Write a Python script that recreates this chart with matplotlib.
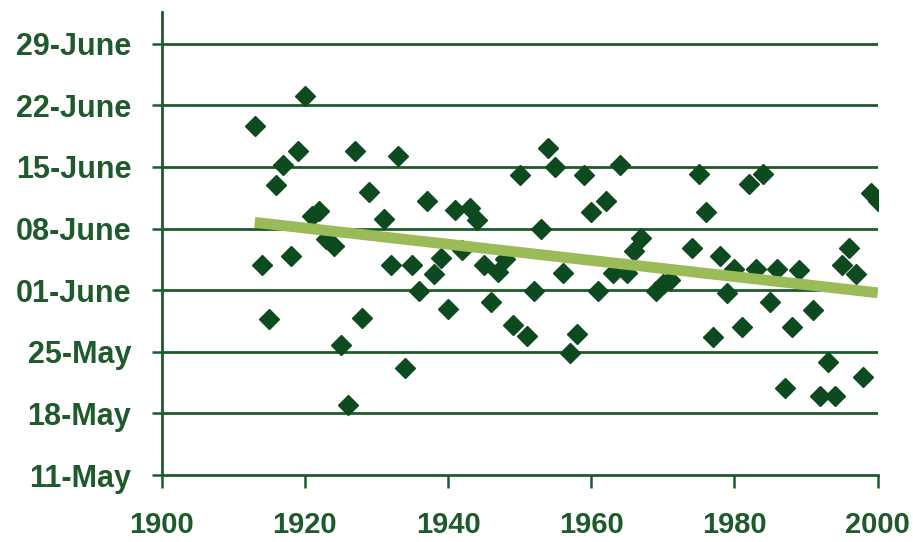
import matplotlib
matplotlib.use("Agg")
import matplotlib.pyplot as plt

# --- data: sowing/flowering date per year, as days after 11 May ---
years = [1913, 1914, 1915, 1916, 1917, 1918, 1919, 1920, 1921, 1922,
         1923, 1924, 1925, 1926, 1927, 1928, 1929, 1931, 1932, 1933,
         1934, 1935, 1936, 1937, 1938, 1939, 1940, 1941, 1942, 1943,
         1944, 1945, 1946, 1947, 1948, 1949, 1950, 1951, 1952, 1953,
         1954, 1955, 1956, 1957, 1958, 1959, 1960, 1961, 1962, 1963,
         1964, 1965, 1966, 1967, 1969, 1970, 1971, 1974, 1975, 1976,
         1977, 1978, 1979, 1980, 1981, 1982, 1983, 1984, 1985, 1986,
         1987, 1988, 1989, 1991, 1992, 1993, 1994, 1995, 1996, 1997,
         1998, 1999, 2000]
days = [39.7, 23.9, 17.7, 33.0, 35.2, 24.9, 36.8, 43.1, 29.4, 30.0,
        26.8, 26.0, 14.8, 8.0, 36.8, 17.8, 32.1, 29.1, 23.9, 36.2,
        12.1, 23.9, 20.9, 31.1, 22.8, 24.7, 18.9, 30.1, 25.6, 30.3,
        29.0, 23.9, 19.7, 23.1, 24.5, 17.0, 34.1, 15.8, 20.9, 28.0,
        37.1, 35.0, 23.0, 13.9, 16.0, 34.1, 29.9, 20.9, 31.1, 23.0,
        35.2, 23.0, 25.4, 26.9, 20.9, 21.7, 22.1, 25.8, 34.2, 29.9,
        15.7, 24.9, 20.7, 23.4, 16.8, 33.1, 23.4, 34.2, 19.7, 23.4,
        9.9, 16.8, 23.3, 18.8, 9.0, 12.8, 9.0, 23.9, 25.8, 22.8,
        11.1, 32.0, 31.1]

# trend line end points
trend_years = [1913, 2000]
trend_days = [28.7, 20.7]

ytick_pos = [0, 7, 14, 21, 28, 35, 42, 49]
ytick_labels = ["11-May", "18-May", "25-May", "01-June",
                "08-June", "15-June", "22-June", "29-June"]
xtick_pos = [1900, 1920, 1940, 1960, 1980, 2000]

dark = "#1f5a2c"
marker_col = "#0e4a1f"
trend_col = "#9bbb59"

plt.rcParams["font.family"] = ["Liberation Sans", "DejaVu Sans"]

fig = plt.figure(figsize=(9.13, 5.42), dpi=100)
ax = fig.add_axes([0.1771, 0.1236, 0.7842, 0.8543])

# horizontal gridlines
for y in ytick_pos[1:]:
    ax.axhline(y, color=dark, lw=2.0, zorder=1)

ax.plot(years, days, linestyle="none", marker="D", markersize=10,
        color=marker_col, zorder=3)
ax.plot(trend_years, trend_days, color=trend_col, lw=7.8,
        solid_capstyle="butt", zorder=4)

ax.set_xlim(1900, 2000)
ax.set_ylim(0, 52.6)
ax.set_xticks(xtick_pos)
ax.set_yticks(ytick_pos)
ax.set_yticklabels(ytick_labels)

for s in ["top", "right"]:
    ax.spines[s].set_visible(False)
for s in ["left", "bottom"]:
    ax.spines[s].set_color(dark)
    ax.spines[s].set_linewidth(2.0)

ax.tick_params(axis="y", length=7, width=1.8, color=dark, pad=15,
               labelsize=22, labelcolor=dark)
ax.tick_params(axis="x", length=9, width=1.8, color=dark, pad=17,
               labelsize=21, labelcolor=dark)
for lab in ax.get_xticklabels() + ax.get_yticklabels():
    lab.set_fontweight("bold")

fig.savefig("out.png", dpi=100)
